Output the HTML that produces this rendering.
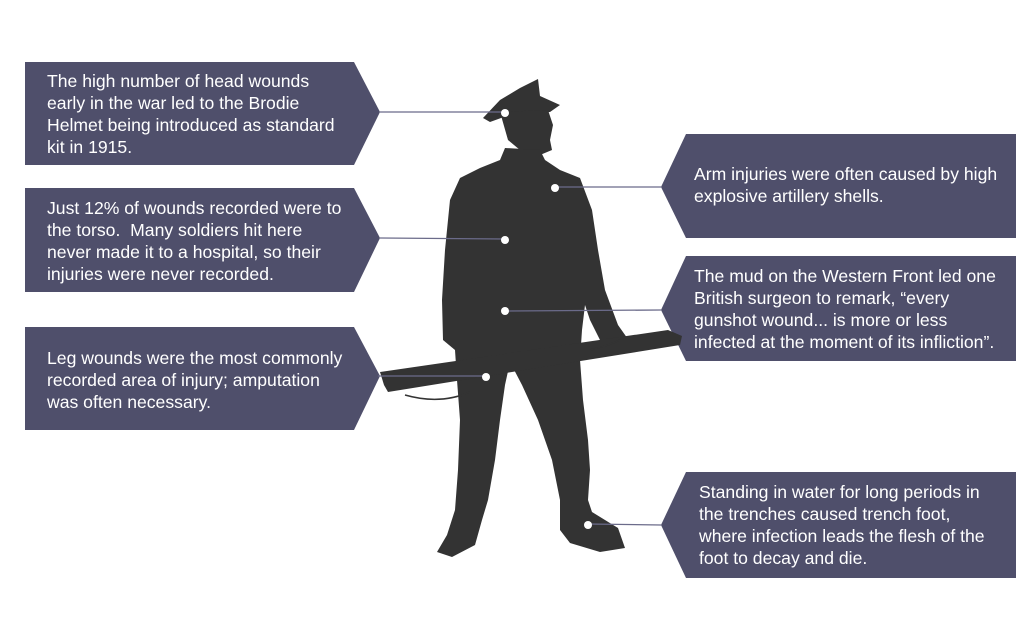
<!DOCTYPE html>
<html><head><meta charset="utf-8"><style>
html,body{margin:0;padding:0;background:#fff;}
body{width:1024px;height:638px;position:relative;overflow:hidden;font-family:"Liberation Sans",sans-serif;}
svg{position:absolute;left:0;top:0;}
.t{position:absolute;color:#fff;font-size:17.6px;line-height:22px;white-space:nowrap;}
</style></head><body>
<svg width="1024" height="638" viewBox="0 0 1024 638">
<g fill="#4f4f6b">
<polygon points="25,62 354,62 380,112 354,165 25,165"/>
<polygon points="25,188 354,188 380,238 354,292 25,292"/>
<polygon points="25,327 354,327 380,376 354,430 25,430"/>
<polygon points="1016,134 686,134 661,187 686,238 1016,238"/>
<polygon points="1016,256 686,256 661,310 686,361 1016,361"/>
<polygon points="1016,472 686,472 661,525 686,578 1016,578"/>
</g>
<g fill="#333333">
<polygon points="483,118 500,100 520,88 538,79 540,96 560,105 550,112 515,113 490,122"/>
<polygon points="500,112 548,110 553,125 550,140 552,150 540,155 520,150 508,140"/>
<polygon points="505,148 540,150 545,160 560,170 580,178 592,210 598,250 605,290 618,325 630,342 625,352 610,350 600,340 590,320 585,305 582,330 580,360 583,400 588,440 590,470 588,500 592,512 618,528 625,548 600,552 570,543 560,530 560,500 552,460 538,420 522,385 510,362 505,385 500,420 495,460 488,500 482,520 475,545 452,557 437,552 447,535 455,510 458,470 460,420 457,380 455,350 443,340 442,300 445,250 450,200 460,178 480,168 500,160"/>
<polygon points="380,372 668,330 682,336 680,345 388,392 384,385"/>
</g>
<path d="M405,395 Q440,405 470,392" stroke="#333" stroke-width="1.5" fill="none"/>
<path d="M590,350 Q610,345 620,340" stroke="#333" stroke-width="1.5" fill="none"/>
<g stroke="#6b6b8a" stroke-width="1.3">
<line x1="380" y1="112" x2="505" y2="112"/>
<line x1="380" y1="238" x2="505" y2="239"/>
<line x1="378" y1="376" x2="486" y2="376"/>
<line x1="556" y1="187" x2="661" y2="187"/>
<line x1="505" y1="311" x2="661" y2="310"/>
<line x1="588" y1="524" x2="661" y2="525"/>
</g>
<g fill="#fff">
<circle cx="505" cy="113" r="4"/>
<circle cx="555" cy="188" r="4"/>
<circle cx="505" cy="240" r="4"/>
<circle cx="505" cy="311" r="4"/>
<circle cx="486" cy="377" r="4"/>
<circle cx="588" cy="525" r="4"/>
</g>
</svg>
<div class="t" style="left:47px;top:70px">The high number of head wounds<br>early in the war led to the Brodie<br>Helmet being introduced as standard<br>kit in 1915.</div>
<div class="t" style="left:47px;top:197px">Just 12% of wounds recorded were to<br>the torso.&nbsp; Many soldiers hit here<br>never made it to a hospital, so their<br>injuries were never recorded.</div>
<div class="t" style="left:47px;top:347px">Leg wounds were the most commonly<br>recorded area of injury; amputation<br>was often necessary.</div>
<div class="t" style="left:694px;top:163px">Arm injuries were often caused by high<br>explosive artillery shells.</div>
<div class="t" style="left:694px;top:265px">The mud on the Western Front led one<br>British surgeon to remark, “every<br>gunshot wound... is more or less<br>infected at the moment of its infliction”.</div>
<div class="t" style="left:699px;top:481px">Standing in water for long periods in<br>the trenches caused trench foot,<br>where infection leads the flesh of the<br>foot to decay and die.</div>
</body></html>
